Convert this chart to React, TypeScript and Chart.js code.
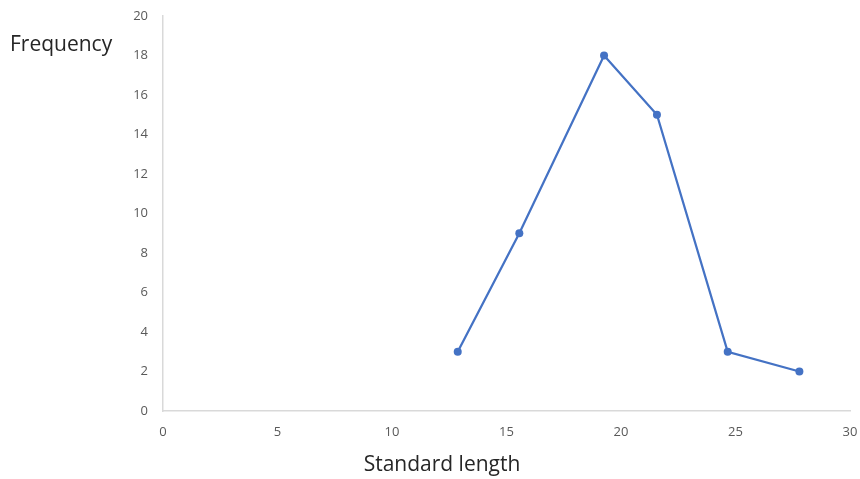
import React, { useEffect, useRef } from "react";
import { Chart, registerables } from "chart.js";

Chart.register(...registerables);

const lengths = [12.87, 15.56, 19.26, 21.57, 24.66, 27.79];
const frequencies = [3, 9, 18, 15, 3, 2];
const xTicks = [0, 5, 10, 15, 20, 25, 30];
const yTicks = [0, 2, 4, 6, 8, 10, 12, 14, 16, 18, 20];
const xTitle = "Standard length";
const yTitle = "Frequency";

const FONT = "'Open Sans', 'Noto Sans', sans-serif";

export default function App() {
  const ref = useRef<HTMLCanvasElement | null>(null);

  useEffect(() => {
    document.body.style.margin = "0";
    const canvas = ref.current;
    if (!canvas) return;

    const titlesPlugin = {
      id: "titles",
      afterDraw(chart: any) {
        const ctx = chart.ctx;
        ctx.save();
        ctx.fillStyle = "#262626";
        ctx.font = `21px ${FONT}`;
        ctx.textBaseline = "middle";
        ctx.textAlign = "left";
        ctx.fillText(yTitle, 10, 45);
        ctx.textAlign = "center";
        ctx.fillText(xTitle, 442, 465);
        ctx.restore();
      },
    };

    const chart = new Chart(canvas, {
      type: "line",
      data: {
        datasets: [
          {
            data: lengths.map((x, i) => ({ x, y: frequencies[i] })),
            borderColor: "#4472C4",
            backgroundColor: "#4472C4",
            borderWidth: 2.25,
            pointRadius: 4,
            pointHoverRadius: 4,
            pointBorderWidth: 0,
            tension: 0,
            fill: false,
          },
        ],
      },
      options: {
        animation: false,
        responsive: false,
        layout: { padding: { top: 16, right: 10, left: 0, bottom: 0 } },
        plugins: { legend: { display: false }, tooltip: { enabled: false } },
        scales: {
          x: {
            type: "linear",
            min: 0,
            max: 30,
            afterBuildTicks(axis: any) {
              axis.ticks = xTicks.map((v) => ({ value: v }));
            },
            afterFit(axis: any) {
              axis.height = 68;
              axis.paddingLeft = 0;
              axis.paddingRight = 0;
            },
            grid: { display: false, drawTicks: false },
            border: { display: true, color: "#d9d9d9", width: 1.5 },
            ticks: {
              color: "#595959",
              font: { family: FONT, size: 13 },
              padding: 13,
              maxRotation: 0,
            },
          },
          y: {
            type: "linear",
            min: 0,
            max: 20,
            afterBuildTicks(axis: any) {
              axis.ticks = yTicks.map((v) => ({ value: v }));
            },
            afterFit(axis: any) {
              axis.width = 163;
              axis.paddingTop = 0;
              axis.paddingBottom = 0;
            },
            grid: { display: false, drawTicks: false },
            border: { display: true, color: "#d9d9d9", width: 1.5 },
            ticks: {
              color: "#595959",
              font: { family: FONT, size: 13 },
              padding: 15,
            },
          },
        },
      },
      plugins: [titlesPlugin],
    });

    return () => chart.destroy();
  }, []);

  return (
    <div style={{ width: 860, height: 479, background: "#fff" }}>
      <canvas ref={ref} width={860} height={479} />
    </div>
  );
}
